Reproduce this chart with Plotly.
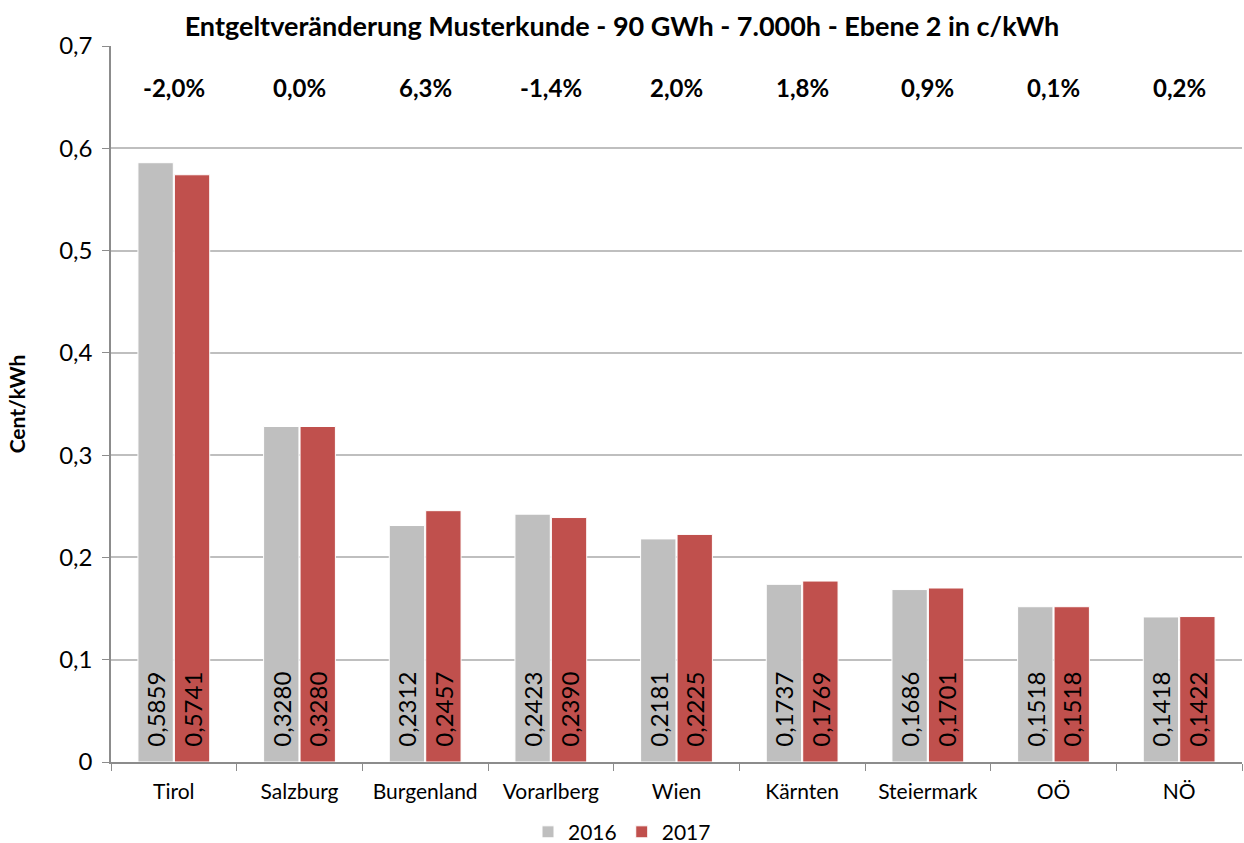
import plotly.graph_objects as go

# Netzentgelte je Bundesland, Musterkunde Ebene 2
regionen = ["Tirol", "Salzburg", "Burgenland", "Vorarlberg", "Wien",
            "Kärnten", "Steiermark", "OÖ", "NÖ"]
werte_2016 = [0.5859, 0.3280, 0.2312, 0.2423, 0.2181, 0.1737, 0.1686, 0.1518, 0.1418]
werte_2017 = [0.5741, 0.3280, 0.2457, 0.2390, 0.2225, 0.1769, 0.1701, 0.1518, 0.1422]
veraenderung = ["-2,0%", "0,0%", "6,3%", "-1,4%", "2,0%", "1,8%", "0,9%", "0,1%", "0,2%"]

y_ticks = [0, 0.1, 0.2, 0.3, 0.4, 0.5, 0.6, 0.7]
y_ticktext = ["0", "0,1", "0,2", "0,3", "0,4", "0,5", "0,6", "0,7"]

FONT = "Lato, 'Open Sans', sans-serif"
NBSP = "\u00a0"

fig = go.Figure()
for name, vals, color in [("2016", werte_2016, "#BFBFBF"), ("2017", werte_2017, "#C0504D")]:
    fig.add_trace(go.Bar(
        x=regionen, y=vals, name=name,
        marker=dict(color=color, line=dict(color="white", width=1)),
        texttemplate=NBSP * 2 + "%{y:.4f}",
        textposition="inside",
        insidetextanchor="start",
        textangle=-90,
        constraintext="none",
        insidetextfont=dict(family=FONT, size=24, color="black"),
    ))

# Prozentuelle Veränderung über jeder Gruppe
for reg, txt in zip(regionen, veraenderung):
    fig.add_annotation(x=reg, y=0.659, text=f"<b>{txt}</b>", showarrow=False,
                       font=dict(family=FONT, size=24, color="black"))

fig.update_layout(
    width=1244, height=843,
    paper_bgcolor="white", plot_bgcolor="white",
    separators=",.",
    barmode="group", bargap=0.42, bargroupgap=0.03,
    margin=dict(l=111, r=2, t=46, b=81, autoexpand=False),
    title=dict(text="<b>Entgeltveränderung Musterkunde - 90 GWh - 7.000h - Ebene 2 in c/kWh</b>",
               x=0.5, xanchor="center", y=0.968, yanchor="middle",
               font=dict(family=FONT, size=27, color="black")),
    font=dict(family=FONT, color="black"),
    legend=dict(orientation="h", xref="container", x=0.5, xanchor="center",
                yref="paper", y=-0.098, yanchor="middle",
                font=dict(family=FONT, size=21), traceorder="normal",
                itemwidth=30, tracegroupgap=0),
    xaxis=dict(showline=True, linecolor="#8C8C8C", linewidth=1.5,
               ticks="outside", tickson="boundaries", ticklen=7, tickcolor="#8C8C8C",
               tickfont=dict(family=FONT, size=21), ticklabelstandoff=10,
               automargin=False),
    yaxis=dict(range=[0, 0.7], tickvals=y_ticks, ticktext=y_ticktext,
               showgrid=True, gridcolor="#BFBFBF", gridwidth=1.5,
               showline=True, linecolor="#8C8C8C", linewidth=1.5,
               ticks="outside", ticklen=7, tickcolor="#8C8C8C",
               tickfont=dict(family=FONT, size=24), ticklabelstandoff=5,
               title=dict(text="<b>Cent/kWh</b>", font=dict(family=FONT, size=21), standoff=28),
               zeroline=False, automargin=False),
)

fig.write_html("out.html")
